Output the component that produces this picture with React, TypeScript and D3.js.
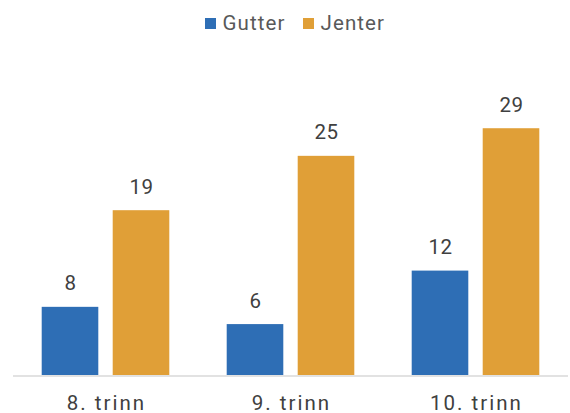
import React from "react";
import * as d3 from "d3";

const categories = ["8. trinn", "9. trinn", "10. trinn"];
const seriesNames = ["Gutter", "Jenter"];
const gutter = [7.9, 5.9, 12.1];
const jenter = [19.1, 25.4, 28.6];
const colors = ["#2E6EB5", "#E09F37"];

export default function App() {
  const W = 570, H = 413;
  const x0 = d3.scaleBand().domain(categories).range([13, 568]).paddingInner(0).paddingOuter(0);
  const step = x0.bandwidth();
  const barW = 56.6, gap = 14.4;
  const y = d3.scaleLinear().domain([0, 35]).range([375, 73]);
  const fmt = d3.format(".0f");
  const series = [gutter, jenter];
  const font = "Roboto, 'Noto Sans', sans-serif";
  return (
    <svg width={W} height={H} style={{ position: "absolute", left: 0, top: 0 }}>
      <rect width={W} height={H} fill="#fff" />
      {categories.map((c, i) => {
        const cx = (x0(c) as number) + step / 2;
        return series.map((s, j) => {
          const bx = cx - gap / 2 - barW + j * (barW + gap);
          const v = s[i];
          return (
            <g key={c + j}>
              <rect x={bx} y={y(v)} width={barW} height={y(0) - y(v)} fill={colors[j]} />
              <text x={bx + barW / 2 + 0.5} y={y(v) - 16.5} textAnchor="middle" fontSize={20.5} letterSpacing={0.5} fill="#404040" fontFamily={font}>{fmt(v)}</text>
            </g>
          );
        });
      })}
      <line x1={13} x2={568} y1={376} y2={376} stroke="#D9D9D9" strokeWidth={1.5} />
      {categories.map((c) => (
        <text key={c} x={(x0(c) as number) + step / 2 + 1} y={410} textAnchor="middle" fontSize={20.5} letterSpacing={2} fill="#404040" fontFamily={font}>{c}</text>
      ))}
      {seriesNames.map((n, j) => {
        const lx = [205, 303][j];
        return (
          <g key={n}>
            <rect x={lx} y={18} width={11} height={11} fill={colors[j]} />
            <text x={lx + 17.5} y={29.5} fontSize={20.5} letterSpacing={1.1} fill="#595959" fontFamily={font}>{n}</text>
          </g>
        );
      })}
    </svg>
  );
}
